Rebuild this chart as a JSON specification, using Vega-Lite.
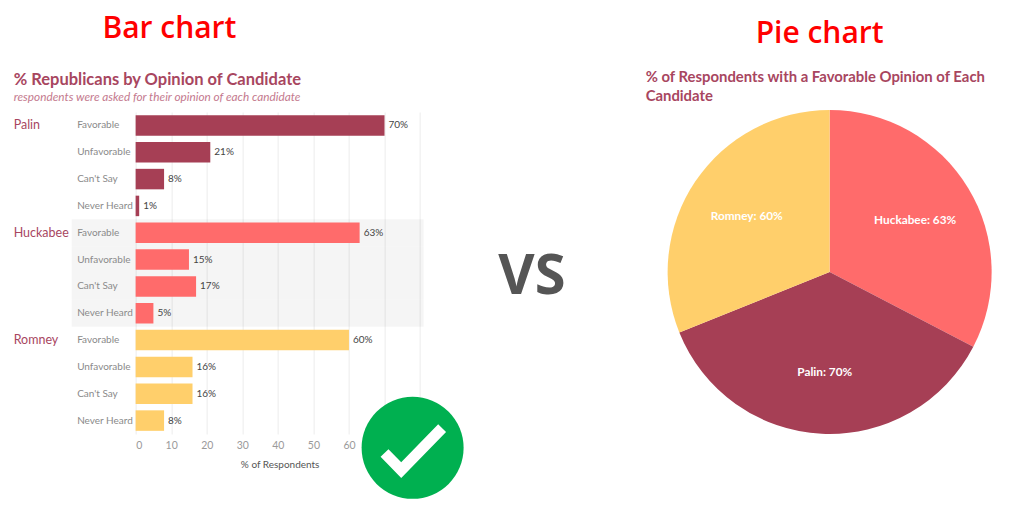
{
  "$schema": "https://vega.github.io/schema/vega-lite/v6.json",
  "background": "white",
  "padding": {"left": 13.63, "top": 14, "right": 0, "bottom": 0},
  "spacing": 0,
  "datasets": {
    "opinions": [
      {"Candidate": "Palin", "Opinion": "Favorable", "key": "Palin|Favorable", "pct": 70, "label": "70%"},
      {"Candidate": "Palin", "Opinion": "Unfavorable", "key": "Palin|Unfavorable", "pct": 21, "label": "21%"},
      {"Candidate": "Palin", "Opinion": "Can't Say", "key": "Palin|Can't Say", "pct": 8, "label": "8%"},
      {"Candidate": "Palin", "Opinion": "Never Heard", "key": "Palin|Never Heard", "pct": 1, "label": "1%"},
      {"Candidate": "Huckabee", "Opinion": "Favorable", "key": "Huckabee|Favorable", "pct": 63, "label": "63%"},
      {"Candidate": "Huckabee", "Opinion": "Unfavorable", "key": "Huckabee|Unfavorable", "pct": 15, "label": "15%"},
      {"Candidate": "Huckabee", "Opinion": "Can't Say", "key": "Huckabee|Can't Say", "pct": 17, "label": "17%"},
      {"Candidate": "Huckabee", "Opinion": "Never Heard", "key": "Huckabee|Never Heard", "pct": 5, "label": "5%"},
      {"Candidate": "Romney", "Opinion": "Favorable", "key": "Romney|Favorable", "pct": 60, "label": "60%"},
      {"Candidate": "Romney", "Opinion": "Unfavorable", "key": "Romney|Unfavorable", "pct": 16, "label": "16%"},
      {"Candidate": "Romney", "Opinion": "Can't Say", "key": "Romney|Can't Say", "pct": 16, "label": "16%"},
      {"Candidate": "Romney", "Opinion": "Never Heard", "key": "Romney|Never Heard", "pct": 8, "label": "8%"}
    ],
    "favorable": [
      {"Candidate": "Huckabee", "pct": 63, "label": "Huckabee: 63%"},
      {"Candidate": "Palin", "pct": 70, "label": "Palin: 70%"},
      {"Candidate": "Romney", "pct": 60, "label": "Romney: 60%"}
    ],
    "badge": [{"x": 77.9, "y": -4.3}],
    "tick": [
      {"x": 70.0, "y": -5.9},
      {"x": 74.7, "y": -11.2},
      {"x": 86.2, "y": 1.8}
    ],
    "versus": [{"label": "VS"}]
  },
  "hconcat": [
    {
      "title": {"text": "Bar chart", "color": "#ff0000", "font": "Open Sans", "fontSize": 30, "fontWeight": 600, "anchor": "middle", "dx": -69.5, "offset": 28},
      "vconcat": [
        {
          "width": 288,
          "height": 322,
          "title": {
            "text": "% Republicans by Opinion of Candidate",
            "subtitle": "respondents were asked for their opinion of each candidate",
            "color": "#a8465f",
            "font": "Lato",
            "fontSize": 16.5,
            "fontWeight": "bold",
            "subtitleColor": "#c4798e",
            "subtitleFont": "Lato",
            "subtitleFontSize": 11.8,
            "subtitleFontStyle": "italic",
            "subtitlePadding": 3,
            "anchor": "start",
            "frame": "bounds",
            "offset": 8.5
          },
          "resolve": {"scale": {"y": "independent"}},
          "layer": [
            {
              "data": {"name": "opinions"},
              "encoding": {
                "y": {
                  "field": "key",
                  "type": "nominal",
                  "sort": null,
                  "scale": {"paddingInner": 0, "paddingOuter": 0},
                  "axis": {
                    "title": null,
                    "domain": false,
                    "ticks": false,
                    "labelAlign": "left",
                    "labelPadding": 59,
                    "labelColor": "#8a8a8a",
                    "labelFont": "Lato",
                    "labelFontSize": 10,
                    "labelExpr": "split(datum.value, '|')[1]"
                  }
                }
              },
              "layer": [
                {
                  "mark": {"type": "rect", "fill": "#000000"},
                  "encoding": {
                    "x": {
                      "datum": -18,
                      "type": "quantitative",
                      "scale": {"domain": [0, 81], "nice": false},
                      "axis": {
                        "title": "% of Respondents",
                        "titleColor": "#555555",
                        "titleFont": "Lato",
                        "titleFontSize": 10,
                        "titleFontWeight": "normal",
                        "titlePadding": 8,
                        "values": [0, 10, 20, 30, 40, 50, 60, 70, 80],
                        "tickCount": 9,
                        "domain": false,
                        "ticks": false,
                        "grid": true,
                        "gridColor": "#ececec",
                        "labelColor": "#9a9a9a",
                        "labelFont": "Lato",
                        "labelFontSize": 10.5,
                        "labelFlush": true,
                        "labelOverlap": false,
                        "labelPadding": 7
                      }
                    },
                    "x2": {"datum": 81},
                    "opacity": {"condition": {"test": "datum.Candidate === 'Huckabee'", "value": 0.04}, "value": 0}
                  }
                },
                {
                  "mark": {"type": "bar", "size": 20.5},
                  "encoding": {
                    "x": {"field": "pct", "type": "quantitative"},
                    "color": {
                      "field": "Candidate",
                      "type": "nominal",
                      "scale": {"domain": ["Palin", "Huckabee", "Romney"], "range": ["#a63f55", "#ff6b6b", "#ffcf6b"]},
                      "legend": null
                    }
                  }
                },
                {
                  "mark": {"type": "text", "align": "left", "dx": 4, "font": "Lato", "fontSize": 10, "color": "#444444"},
                  "encoding": {
                    "x": {"field": "pct", "type": "quantitative"},
                    "text": {"field": "label"}
                  }
                },
                {
                  "transform": [{"filter": "datum.Opinion === 'Favorable'"}],
                  "mark": {"type": "text", "align": "left", "font": "Lato", "fontSize": 12.5, "color": "#a8465f"},
                  "encoding": {
                    "x": {"datum": -34.3, "type": "quantitative"},
                    "text": {"field": "Candidate"}
                  }
                }
              ]
            },
            {
              "layer": [
                {
                  "data": {"name": "badge"},
                  "mark": {"type": "point", "filled": true, "shape": "circle", "size": 10404, "color": "#00b050", "opacity": 1},
                  "encoding": {
                    "x": {"field": "x", "type": "quantitative"},
                    "y": {"field": "y", "type": "quantitative", "scale": {"domain": [0, 100], "nice": false}, "axis": null}
                  }
                },
                {
                  "data": {"name": "tick"},
                  "mark": {"type": "line", "color": "white", "strokeWidth": 11},
                  "encoding": {
                    "x": {"field": "x", "type": "quantitative"},
                    "y": {"field": "y", "type": "quantitative", "axis": null}
                  }
                }
              ]
            }
          ]
        }
      ]
    },
    {
      "width": 180.5,
      "height": 322,
      "data": {"name": "versus"},
      "mark": {"type": "text", "font": "Open Sans", "fontSize": 56, "fontWeight": "bold", "color": "#555555", "dx": -23, "dy": 4},
      "encoding": {"text": {"field": "label"}}
    },
    {
      "title": {"text": "Pie chart", "color": "#ff0000", "font": "Open Sans", "fontSize": 30, "fontWeight": 600, "anchor": "middle", "dx": -10, "offset": 21},
      "vconcat": [
        {
          "width": 368,
          "height": 320,
          "title": {
            "text": ["% of Respondents with a Favorable Opinion of Each", "Candidate"],
            "color": "#a8465f",
            "font": "Lato",
            "fontSize": 14.9,
            "fontWeight": "bold",
            "lineHeight": 19,
            "anchor": "start",
            "frame": "bounds",
            "offset": 6
          },
          "data": {"name": "favorable"},
          "encoding": {
            "theta": {"field": "pct", "type": "quantitative", "stack": true},
            "order": {"field": "Candidate"}
          },
          "layer": [
            {
              "mark": {"type": "arc", "outerRadius": 162},
              "encoding": {
                "color": {
                  "field": "Candidate",
                  "type": "nominal",
                  "scale": {"domain": ["Palin", "Huckabee", "Romney"], "range": ["#a63f55", "#ff6b6b", "#ffcf6b"]},
                  "legend": null
                }
              }
            },
            {
              "mark": {"type": "text", "radius": 100, "font": "Lato", "fontSize": 11.8, "fontWeight": "bold", "color": "white"},
              "encoding": {"text": {"field": "label"}}
            }
          ]
        }
      ]
    }
  ],
  "config": {"view": {"stroke": null}, "concat": {"spacing": 0}}
}
